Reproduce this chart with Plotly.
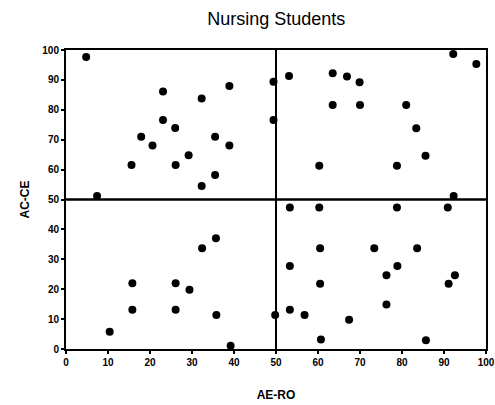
import plotly.graph_objects as go

# AE-RO (x) and AC-CE (y) scores of nursing students
ae_ro = [4.8, 49.4, 23.1, 38.9, 32.3, 49.4, 23.1, 26.0, 17.9, 35.5, 20.6, 38.9, 29.2, 15.6, 26.1, 35.5, 32.3, 7.4,
         53.1, 63.5, 66.9, 69.9, 63.5, 70.0, 81.0, 83.4, 85.6, 60.3, 78.8, 92.2, 97.7, 92.3,
         10.4, 15.8, 15.8, 26.1, 26.1, 29.4, 32.4, 35.7, 35.8, 39.2, 49.8,
         53.3, 60.3, 78.8, 90.9, 60.5, 73.4, 83.6, 53.3, 78.9, 76.3, 92.6, 60.5, 91.1, 76.3, 53.3, 56.8, 67.4, 60.7, 85.7]
ac_ce = [97.7, 89.4, 86.1, 88.0, 83.8, 76.6, 76.6, 73.9, 71.0, 71.0, 68.1, 68.1, 64.8, 61.5, 61.5, 58.2, 54.5, 51.2,
         91.3, 92.2, 91.1, 89.2, 81.6, 81.6, 81.6, 73.8, 64.6, 61.3, 61.3, 98.7, 95.3, 51.2,
         5.8, 22.0, 13.1, 22.0, 13.1, 19.8, 33.7, 37.0, 11.4, 1.1, 11.4,
         47.3, 47.3, 47.3, 47.3, 33.7, 33.7, 33.7, 27.8, 27.8, 24.7, 24.7, 21.8, 21.8, 14.9, 13.1, 11.4, 9.8, 3.2, 2.9]

tick_vals = [0, 10, 20, 30, 40, 50, 60, 70, 80, 90, 100]
tick_text = [str(v) for v in tick_vals]
split_x = 50
split_y = 50

title_text = "Nursing Students"
x_title = "AE-RO"
y_title = "AC-CE"

fig = go.Figure()
fig.add_trace(go.Scatter(
    x=ae_ro, y=ac_ce, mode="markers",
    marker=dict(color="black", size=8, line=dict(width=0)),
    cliponaxis=False, showlegend=False,
))

fig.add_shape(type="line", xref="x", yref="y", x0=0, x1=100, y0=split_y, y1=split_y,
              line=dict(color="black", width=2.5))
fig.add_shape(type="line", xref="x", yref="y", x0=split_x, x1=split_x, y0=0, y1=100,
              line=dict(color="black", width=2))

tick_font = dict(family="Liberation Sans, Arial, sans-serif", size=10, color="black", weight="bold")
axis_common = dict(
    tickvals=tick_vals, ticktext=tick_text, range=[0, 100],
    showgrid=False, zeroline=False, automargin=False,
    showline=True, linecolor="black", linewidth=2, mirror=True,
    ticks="outside", ticklen=3, tickwidth=2, tickcolor="black",
    tickfont=tick_font,
)

fig.update_layout(
    width=495, height=405,
    margin=dict(l=66, r=9, t=50, b=56),
    paper_bgcolor="white", plot_bgcolor="white",
    title=dict(text=title_text, x=0.558, xanchor="center", y=0.955, yanchor="middle",
               font=dict(family="Liberation Sans, Arial, sans-serif", size=18, color="black")),
    xaxis=dict(**axis_common,
               title=dict(text=x_title, standoff=24,
                          font=dict(family="Liberation Sans, Arial, sans-serif", size=12, color="black", weight="bold"))),
    yaxis=dict(**axis_common,
               title=dict(text=y_title, standoff=10,
                          font=dict(family="Liberation Sans, Arial, sans-serif", size=12, color="black", weight="bold"))),
)

fig.write_html("out.html")
